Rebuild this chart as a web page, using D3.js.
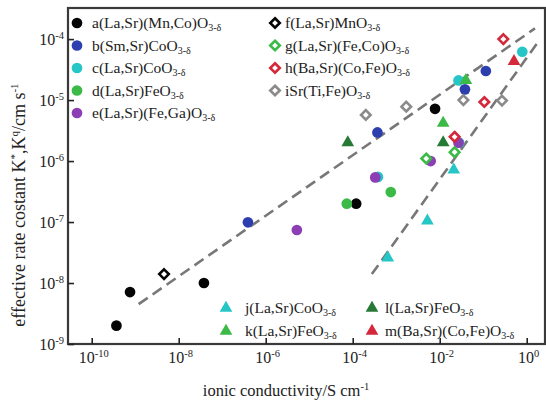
<!DOCTYPE html>
<html>
<head>
<meta charset="utf-8">
<script src="https://cdn.jsdelivr.net/npm/d3@7"></script>
<style>
  body { margin: 0; background: #fff; }
</style>
</head>
<body>
<svg id="chart" width="546" height="404"></svg>
<script>
// x = ionic conductivity (S/cm), y = effective rate constant (cm/s)
const seriesA = [[3.7e-10, 2.0e-9], [7.6e-10, 7.1e-9], [3.8e-8, 1.0e-8], [1.2e-4, 2.0e-7], [7.8e-3, 7.2e-6]];
const seriesB = [[3.9e-7, 9.9e-8], [3.7e-4, 2.95e-6], [3.8e-2, 1.5e-5], [0.115, 3.0e-5]];
const seriesC = [[3.8e-4, 5.5e-7], [2.8e-2, 2.0e-6], [2.7e-2, 2.1e-5], [0.79, 6.2e-5]];
const seriesD = [[7.3e-5, 2.0e-7], [7.5e-4, 3.1e-7]];
const seriesE = [[5.2e-6, 7.4e-8], [3.3e-4, 5.4e-7], [6.2e-3, 1.0e-6], [2.7e-2, 2.0e-6]];
const seriesF = [[4.6e-9, 1.4e-8]];
const seriesG = [[4.9e-3, 1.1e-6], [2.2e-2, 1.4e-6]];
const seriesH = [[0.29, 1.0e-4], [0.106, 9.3e-6], [2.2e-2, 2.5e-6]];
const seriesI = [[2.0e-4, 5.7e-6], [1.7e-3, 7.8e-6], [3.5e-2, 1.0e-5], [0.27, 9.8e-6]];
const seriesJ = [[6.4e-4, 2.6e-8], [5.2e-3, 1.05e-7], [2.1e-2, 7.2e-7]];
const seriesK = [[1.2e-2, 4.2e-6], [4.0e-2, 2.1e-5]];
const seriesL = [[7.7e-5, 2.0e-6], [1.2e-2, 2.0e-6]];
const seriesM = [[0.51, 4.3e-5]];

// dashed guide lines (start, end)
const guideUpper = [[1.2e-9, 4.5e-9], [1.55, 1.5e-4]];
const guideLower = [[2.75e-4, 1.4e-8], [1.85, 9.1e-5]];

const xTicks = [1e-10, 1e-8, 1e-6, 1e-4, 1e-2, 1];
const yTicks = [1e-9, 1e-8, 1e-7, 1e-6, 1e-5, 1e-4];

const series = [
  { key: "a", label: "a(La,Sr)(Mn,Co)O", data: seriesA, shape: "circle", color: "#050505", open: false },
  { key: "b", label: "b(Sm,Sr)CoO", data: seriesB, shape: "circle", color: "#2d3fae", open: false },
  { key: "c", label: "c(La,Sr)CoO", data: seriesC, shape: "circle", color: "#27c6c6", open: false },
  { key: "d", label: "d(La,Sr)FeO", data: seriesD, shape: "circle", color: "#3cba48", open: false },
  { key: "e", label: "e(La,Sr)(Fe,Ga)O", data: seriesE, shape: "circle", color: "#8c3fb5", open: false },
  { key: "f", label: "f(La,Sr)MnO", data: seriesF, shape: "diamond", color: "#050505", open: true },
  { key: "g", label: "g(La,Sr)(Fe,Co)O", data: seriesG, shape: "diamond", color: "#3cba48", open: true },
  { key: "h", label: "h(Ba,Sr)(Co,Fe)O", data: seriesH, shape: "diamond", color: "#d3293a", open: true },
  { key: "i", label: "iSr(Ti,Fe)O", data: seriesI, shape: "diamond", color: "#8a8a8a", open: true },
  { key: "j", label: "j(La,Sr)CoO", data: seriesJ, shape: "triangle", color: "#27c6c6", open: false },
  { key: "k", label: "k(La,Sr)FeO", data: seriesK, shape: "triangle", color: "#3cba48", open: false },
  { key: "l", label: "l(La,Sr)FeO", data: seriesL, shape: "triangle", color: "#267a36", open: false },
  { key: "m", label: "m(Ba,Sr)(Co,Fe)O", data: seriesM, shape: "triangle", color: "#d3293a", open: false }
];

// legend placement per series key: marker x, row y, text x
const legendPos = {
  a: [77, 23, 92], b: [77, 45.5, 92], c: [77, 68, 92], d: [77, 90.5, 92], e: [77, 113, 92],
  f: [275, 23, 285], g: [275, 45.5, 285], h: [275, 68, 285], i: [275, 90.5, 285],
  j: [226, 308, 245], k: [226, 331, 245], l: [372, 308, 385], m: [372, 331, 385]
};

const FONT = "'Liberation Serif', 'Times New Roman', 'DejaVu Serif', serif";

const svg = d3.select("#chart").attr("font-family", FONT);
const plot = { left: 68, right: 545, top: 8, bottom: 344 };

const x = d3.scaleLog().domain([Math.pow(10, -10.545), Math.pow(10, 0.42)]).range([plot.left, plot.right]);
const y = d3.scaleLog().domain([1e-9, Math.pow(10, -3.49)]).range([plot.bottom, plot.top]);

// frame
svg.append("rect")
  .attr("x", plot.left).attr("y", plot.top)
  .attr("width", plot.right - plot.left).attr("height", plot.bottom - plot.top)
  .attr("fill", "none").attr("stroke", "#3a3a3a").attr("stroke-width", 2.2);

// axes with inward ticks
const xAxis = svg.append("g").attr("transform", `translate(0,${plot.bottom})`)
  .call(d3.axisBottom(x).tickValues(xTicks).tickSizeInner(-6).tickSizeOuter(0).tickFormat(""));
const yAxis = svg.append("g").attr("transform", `translate(${plot.left},0)`)
  .call(d3.axisLeft(y).tickValues(yTicks).tickSizeInner(-6).tickSizeOuter(0).tickFormat(""));
[xAxis, yAxis].forEach(g => {
  g.select(".domain").remove();
  g.attr("font-family", FONT);
  g.selectAll(".tick line").attr("stroke", "#222").attr("stroke-width", 1.6);
});

function powerLabel(sel, v) {
  const e = Math.round(Math.log10(v));
  sel.append("tspan").text("10");
  sel.append("tspan").attr("dy", -6).attr("font-size", 10.5).text(e);
}

xTicks.forEach(v => {
  const t = svg.append("text")
    .attr("x", x(v) + 2).attr("y", 363)
    .attr("text-anchor", "middle").attr("font-family", FONT)
    .attr("font-size", 16).attr("fill", "#222");
  powerLabel(t, v);
});
yTicks.forEach(v => {
  const t = svg.append("text")
    .attr("x", 64).attr("y", y(v) + 6)
    .attr("text-anchor", "end").attr("font-family", FONT)
    .attr("font-size", 16).attr("fill", "#222");
  powerLabel(t, v);
});

// axis titles
const yTitle = svg.append("text")
  .attr("transform", "translate(25,205) rotate(-90)")
  .attr("text-anchor", "middle").attr("font-family", FONT)
  .attr("font-size", 18).attr("fill", "#222");
yTitle.append("tspan").text("effective rate costant K");
yTitle.append("tspan").attr("dy", -7).attr("font-size", 11).text("*");
yTitle.append("tspan").attr("dy", 7).text(",K");
yTitle.append("tspan").attr("dy", -7).attr("font-size", 11).text("q");
yTitle.append("tspan").attr("dy", 7).text("/cm s");
yTitle.append("tspan").attr("dy", -7).attr("font-size", 11).text("-1");

const xTitle = svg.append("text")
  .attr("x", 286).attr("y", 396)
  .attr("text-anchor", "middle").attr("font-family", FONT)
  .attr("font-size", 16.5).attr("fill", "#222");
xTitle.append("tspan").text("ionic conductivity/S cm");
xTitle.append("tspan").attr("dy", -6).attr("font-size", 10.5).text("-1");

// dashed guides
const line = d3.line().x(d => x(d[0])).y(d => y(d[1]));
[guideUpper, guideLower].forEach(g => {
  svg.append("path").attr("d", line(g))
    .attr("fill", "none").attr("stroke", "#777").attr("stroke-width", 2.6)
    .attr("stroke-dasharray", "11,6");
});

const symbolType = { circle: d3.symbolCircle, diamond: d3.symbolDiamond2, triangle: d3.symbolTriangle };
const symbolSize = { circle: 90, diamond: 58, triangle: 70 };

function drawMarker(g, s, px, py) {
  const p = g.append("path")
    .attr("transform", `translate(${px},${py})`)
    .attr("d", d3.symbol().type(symbolType[s.shape]).size(symbolSize[s.shape])());
  if (s.open) {
    p.attr("fill", "#fff").attr("stroke", s.color).attr("stroke-width", 2.6);
  } else {
    p.attr("fill", s.color).attr("stroke", "none");
  }
}

const marks = svg.append("g");
series.forEach(s => {
  s.data.forEach(d => drawMarker(marks, s, x(d[0]), y(d[1])));
});

// legend
const legend = svg.append("g");
series.forEach(s => {
  const [lx, ly, tx] = legendPos[s.key];
  drawMarker(legend, s, lx, ly);
  const t = legend.append("text")
    .attr("x", tx).attr("y", ly + 5)
    .attr("font-family", FONT)
    .attr("font-size", 15.5).attr("fill", "#222");
  t.append("tspan").text(s.label);
  t.append("tspan").attr("dy", 3).attr("font-size", 10).text("3-δ");
});
</script>
</body>
</html>
